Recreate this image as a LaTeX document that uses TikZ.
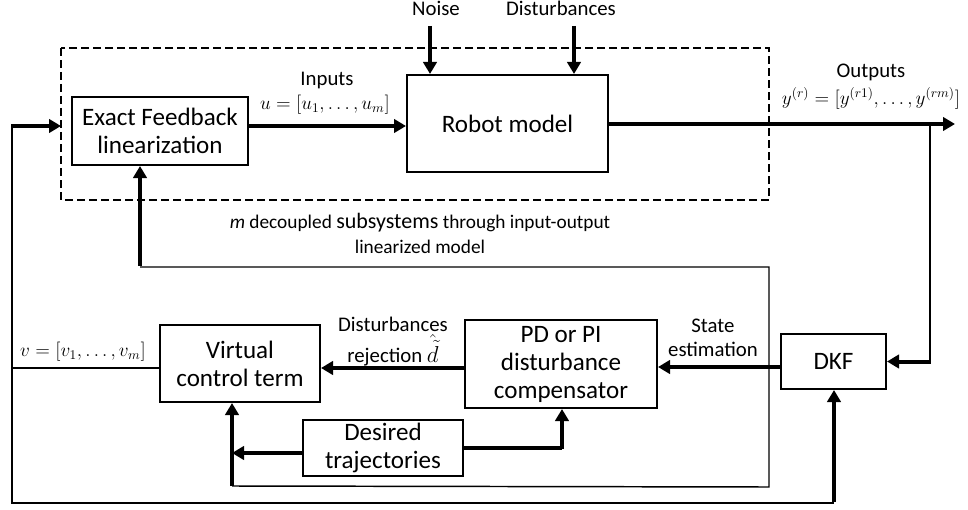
\documentclass[tikz,border=0pt]{standalone}
\usepackage{fontspec}
\setmainfont{Carlito}
\usetikzlibrary{arrows.meta}
\begin{document}
\begin{tikzpicture}[x=0.75pt,y=-0.75pt,
  blockbox/.style={draw,line width=1.5pt,align=center,inner sep=0pt,
    font=\fontsize{18.8}{21}\selectfont},
  lbl/.style={align=center,inner sep=0pt,font=\fontsize{15.6}{18}\selectfont},
  mlbl/.style={inner sep=0pt,font=\fontsize{14}{16}\selectfont},
  arr/.style={line width=3pt,-{Triangle[length=9pt,width=10pt]}},
  thickline/.style={line width=3pt},
  thinline/.style={line width=1.1pt},
  midline/.style={line width=1.5pt}]
\useasboundingbox (0,0) rectangle (968,510);

% dashed frame around the linearized plant
\draw[line width=1.5pt,dash pattern=on 6pt off 3pt] (61,48) rectangle (769,200);

% blocks
\node[blockbox,minimum width=176*0.75pt,minimum height=68*0.75pt] (efl) at (160,131)
  {Exact Feedback\\linearization};
\node[blockbox,minimum width=201*0.75pt,minimum height=97*0.75pt] (robot) at (507.5,123.5)
  {Robot model};
\node[blockbox,minimum width=105*0.75pt,minimum height=55*0.75pt] (dkf) at (833.5,361.5)
  {DKF};
\node[blockbox,minimum width=192*0.75pt,minimum height=88*0.75pt] (pd) at (561,364)
  {PD or PI\\disturbance\\compensator};
\node[blockbox,minimum width=160*0.75pt,minimum height=77*0.75pt] (vct) at (240,363.5)
  {Virtual\\control term};
\node[blockbox,minimum width=160*0.75pt,minimum height=56*0.75pt] (dt) at (383,448)
  {Desired\\trajectories};

% external inputs
\node[lbl] (noise) at (436,8) {Noise};
\node[lbl] (dist) at (561,8) {Disturbances};
\coordinate (noiseTop) at (430,26);
\coordinate (distTop) at (574,26);
\draw[arr] (noiseTop) -- (noiseTop |- robot.north);
\draw[arr] (distTop) -- (distTop |- robot.north);

% labels
\node[lbl] (inlbl) at (327,81) {Inputs};
\node[mlbl] (umath) at (325,105) {$u=[u_1,\dots,u_m]$};
\node[lbl] (outlbl) at (871,72) {Outputs};
\node[mlbl] (ymath) at (871,98) {$y^{(r)}=[y^{(r1)},\dots,y^{(rm)}]$};
\node[lbl,font=\fontsize{14.5}{24}\selectfont] (sublbl1) at (420,223)
  {\textit{m} decoupled {\fontsize{16.5}{24}\selectfont subsystems} through input-output};
\node[lbl,font=\fontsize{14.5}{24}\selectfont] (sublbl2) at (420,247) {linearized model};
\node[lbl] (rejlbl1) at (393,324) {Disturbances};
\node[lbl,anchor=base] (rejlbl2) at (393,362)
  {rejection {\fontsize{18}{18}\selectfont$\hat{\tilde{d}}$}};
\node[lbl] (selbl) at (713,338) {State\\estimation};
\node[mlbl] (vmath) at (83,352) {$v=[v_1,\dots,v_m]$};

% free ends and corners
\coordinate (yout) at (955,124);
\coordinate (ytap) at (930,124);
\coordinate (lowL) at (232,486);
\coordinate (loopR) at (769,487);
\coordinate (loopTop) at (769,267);
\coordinate (eflIn) at (140,267);
\coordinate (outerL) at (12,503);
\coordinate (outerR) at (834,503);
\coordinate (leftTop) at (12,126);
\coordinate (frameIn) at (61,126);
\coordinate (dtCorner) at (562,448);

% forward path
\draw[arr] (efl.east |- 0,126) -- (robot.west |- 0,126);
\draw[arr] (robot.east |- yout) -- (yout);

% measurement to filter
\draw[thinline] (ytap) -- (ytap |- dkf.east);
\draw[arr] ([xshift=0.5pt]ytap |- dkf.east) -- (dkf.east);

% filter to compensator, compensator to virtual control
\draw[arr] (dkf.west |- 0,367) -- (pd.east |- 0,367);
\draw[arr] (pd.west |- 0,368) -- (vct.east |- 0,368);

% desired trajectories
\draw[arr] (dt.west |- 0,453) -- (232,453);
\draw[thickline] (dt.east |- dtCorner) -- (dtCorner);
\draw[arr] ([yshift=-1.1pt]dtCorner) -- (dtCorner |- pd.south);
\draw[arr] (lowL) -- (lowL |- vct.south);

% loop back to the linearization block
\draw[thinline] (lowL) -- (loopR) -- (loopTop) -- (eflIn);
\draw[arr] ([yshift=1.1pt]eflIn) -- (eflIn |- efl.south);

% virtual control output and outer loop
\draw[thinline] (vct.west |- 0,368) -- (12,368);
\draw[midline] (leftTop) -- (outerL) -- (outerR);
\draw[arr] ([yshift=1pt]outerR) -- (outerR |- dkf.south);
\draw[arr] ([xshift=-0.75pt]leftTop) -- (frameIn);
\end{tikzpicture}
\end{document}
